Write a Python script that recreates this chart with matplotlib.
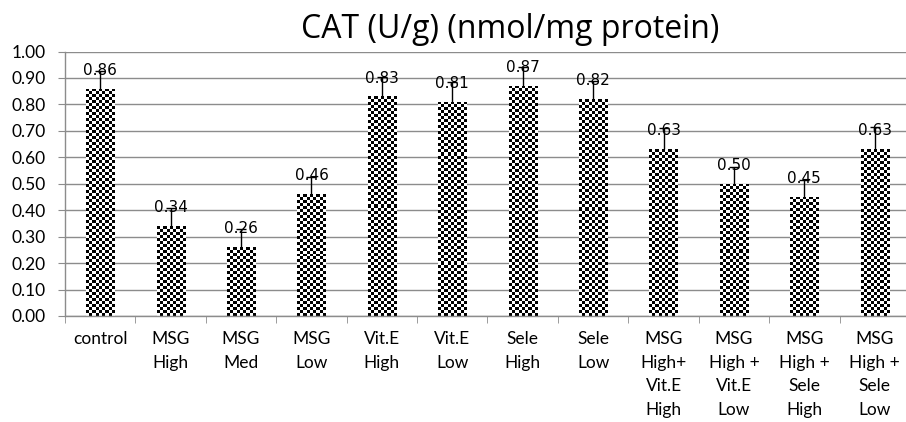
import numpy as np
import matplotlib
matplotlib.use("Agg")
import matplotlib.pyplot as plt

# values
groups = ["control", "MSG\nHigh", "MSG\nMed", "MSG\nLow", "Vit.E\nHigh", "Vit.E\nLow",
          "Sele\nHigh", "Sele\nLow", "MSG\nHigh+\nVit.E\nHigh", "MSG\nHigh +\nVit.E\nLow",
          "MSG\nHigh +\nSele\nHigh", "MSG\nHigh +\nSele\nLow"]
cat_mean = [0.86, 0.34, 0.26, 0.46, 0.83, 0.81, 0.87, 0.82, 0.63, 0.50, 0.45, 0.63]
cat_err = [0.065, 0.07, 0.07, 0.065, 0.075, 0.075, 0.07, 0.07, 0.08, 0.065, 0.065, 0.085]
y_ticks = [0.0, 0.1, 0.2, 0.3, 0.4, 0.5, 0.6, 0.7, 0.8, 0.9, 1.0]

W, H, DPI = 906, 422, 100
fig = plt.figure(figsize=(W / DPI, H / DPI), dpi=DPI)
ax = fig.add_axes([65 / W, 1 - 316 / H, 845 / W, (316 - 51.5) / H])

x = np.arange(len(groups))
vals = np.array(cat_mean)
err = np.array(cat_err)

grid_col = "#8c8c8c"
ax.set_xlim(-0.5, len(groups) - 0.5)
ax.set_ylim(0, 1.0)
ax.set_yticks(y_ticks)
ax.set_yticklabels([f"{t:.2f}" for t in y_ticks])
ax.yaxis.grid(True, color=grid_col, lw=1.0)
ax.set_axisbelow(True)

bars = ax.bar(x, vals, width=0.4, facecolor="none", edgecolor="none", zorder=2)

# checkerboard fill, ~3 px squares
fig.canvas.draw()
to_px = ax.transData
for b in bars:
    x0, y0 = b.get_x(), 0
    x1, y1 = b.get_x() + b.get_width(), b.get_height()
    (px0, py0), (px1, py1) = to_px.transform([(x0, y0), (x1, y1)])
    nc = max(1, int(round((px1 - px0) / 3)))
    nr = max(1, int(round((py1 - py0) / 3)))
    ii, jj = np.indices((nr, nc))
    board = ((ii + jj) % 2).astype(float)
    im = ax.imshow(board, cmap="gray", extent=(x0, x1, y0, y1), aspect="auto",
                   interpolation="nearest", zorder=2, vmin=0, vmax=1)
    im.set_clip_path(b)

eb = ax.errorbar(x, vals, yerr=[np.zeros_like(err), err], fmt="none", ecolor="black",
                 elinewidth=1.0, capsize=3.3, capthick=1.0, zorder=3)
for cap in eb[1]:
    if np.allclose(cap.get_ydata(), vals):
        cap.set_visible(False)

for xi, v in zip(x, vals):
    ax.annotate(f"{v:.2f}", (xi, v), xytext=(0, 10), textcoords="offset points",
                ha="center", va="baseline", fontsize=11, family="DejaVu Sans", zorder=4)

ax.set_xticks(x)
ax.set_xticklabels(groups, fontsize=12.5, family="Lato", linespacing=1.58, va="top")
ax.set_xticks(np.arange(len(groups) + 1) - 0.5, minor=True)
ax.tick_params(axis="x", which="major", length=0, pad=11)
ax.tick_params(axis="x", which="minor", length=5, color=grid_col, direction="out")
ax.tick_params(axis="y", length=5, color=grid_col, pad=9, labelsize=12.5)
for lab in ax.get_yticklabels():
    lab.set_family("Lato")

for s in ["top", "right"]:
    ax.spines[s].set_visible(False)
for s in ["left", "bottom"]:
    ax.spines[s].set_color(grid_col)
    ax.spines[s].set_linewidth(1.0)

fig.text(510 / W, 1 - 38 / H, "CAT (U/g) (nmol/mg protein)", ha="center", va="baseline",
         fontsize=23, family="Open Sans")

fig.savefig("out.png", dpi=DPI)
